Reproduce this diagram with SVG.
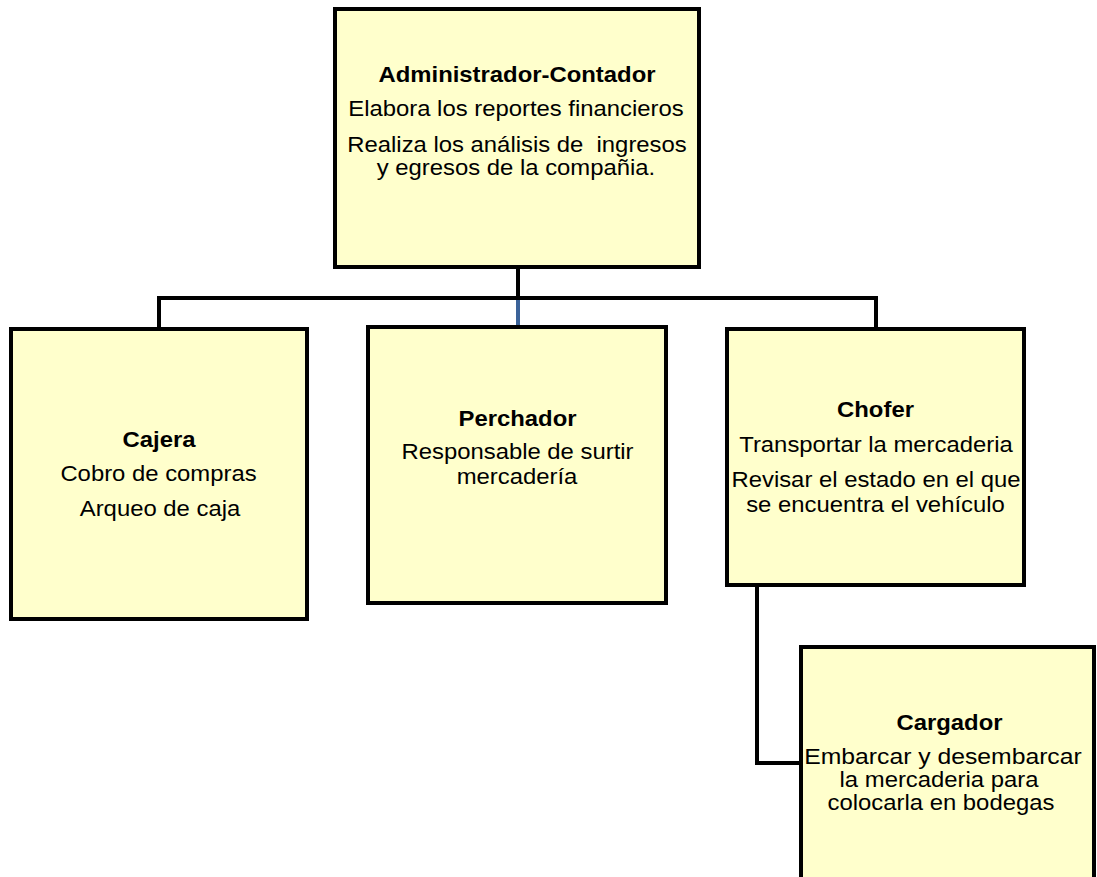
<svg xmlns="http://www.w3.org/2000/svg" width="1097" height="877" viewBox="0 0 1097 877">
  <style>
    .box { fill: #FFFFCC; stroke: #000000; stroke-width: 4; }
    .conn { fill: none; stroke: #000000; stroke-width: 4; stroke-linecap: square; stroke-linejoin: miter; }
    .conn-blue { fill: none; stroke: #3B6399; stroke-width: 4; }
    text { font-family: "Liberation Sans", Arial, sans-serif; font-size: 21.5px; fill: #000000; text-anchor: middle; }
    .title { font-weight: bold; }
  </style>
  <rect x="0" y="0" width="1097" height="877" fill="#FFFFFF"/>

  <g id="connectors">
    <path class="conn" d="M518 267 L518 298"/>
    <path class="conn" d="M159 329 L159 298 L876 298 L876 329"/>
    <path class="conn-blue" d="M518 300 L518 327"/>
    <path class="conn" d="M757 585 L757 763 L801 763"/>
  </g>

  <g id="node-admin">
    <rect class="box" x="335" y="9" width="364" height="258"/>
    <text class="title" transform="translate(517 82) scale(1.11 1)">Administrador-Contador</text>
    <text transform="translate(516 116) scale(1.11 1)">Elabora los reportes financieros</text>
    <text transform="translate(517 152) scale(1.11 1)" xml:space="preserve">Realiza los análisis de  ingresos</text>
    <text transform="translate(516 175) scale(1.11 1)">y egresos de la compañia.</text>
  </g>

  <g id="node-cajera">
    <rect class="box" x="11" y="329" width="296" height="290"/>
    <text class="title" transform="translate(159 447) scale(1.11 1)">Cajera</text>
    <text transform="translate(158.5 481) scale(1.11 1)">Cobro de compras</text>
    <text transform="translate(160 516) scale(1.11 1)">Arqueo de caja</text>
  </g>

  <g id="node-perchador">
    <rect class="box" x="368" y="327" width="298" height="276"/>
    <text class="title" transform="translate(517.5 426) scale(1.11 1)">Perchador</text>
    <text transform="translate(517.5 459) scale(1.11 1)">Responsable de surtir</text>
    <text transform="translate(517 484) scale(1.11 1)">mercadería</text>
  </g>

  <g id="node-chofer">
    <rect class="box" x="727" y="329" width="297" height="256"/>
    <text class="title" transform="translate(875.5 417) scale(1.11 1)">Chofer</text>
    <text transform="translate(876 452) scale(1.11 1)">Transportar la mercaderia</text>
    <text transform="translate(876 487) scale(1.11 1)">Revisar el estado en el que</text>
    <text transform="translate(875.5 512) scale(1.11 1)">se encuentra el vehículo</text>
  </g>

  <g id="node-cargador">
    <rect class="box" x="801" y="647" width="293" height="260"/>
    <text class="title" transform="translate(949.5 730) scale(1.11 1)">Cargador</text>
    <text transform="translate(943 764) scale(1.15 1)">Embarcar y desembarcar</text>
    <text transform="translate(939 787) scale(1.11 1)">la mercaderia para</text>
    <text transform="translate(941 810) scale(1.11 1)">colocarla en bodegas</text>
  </g>
</svg>
